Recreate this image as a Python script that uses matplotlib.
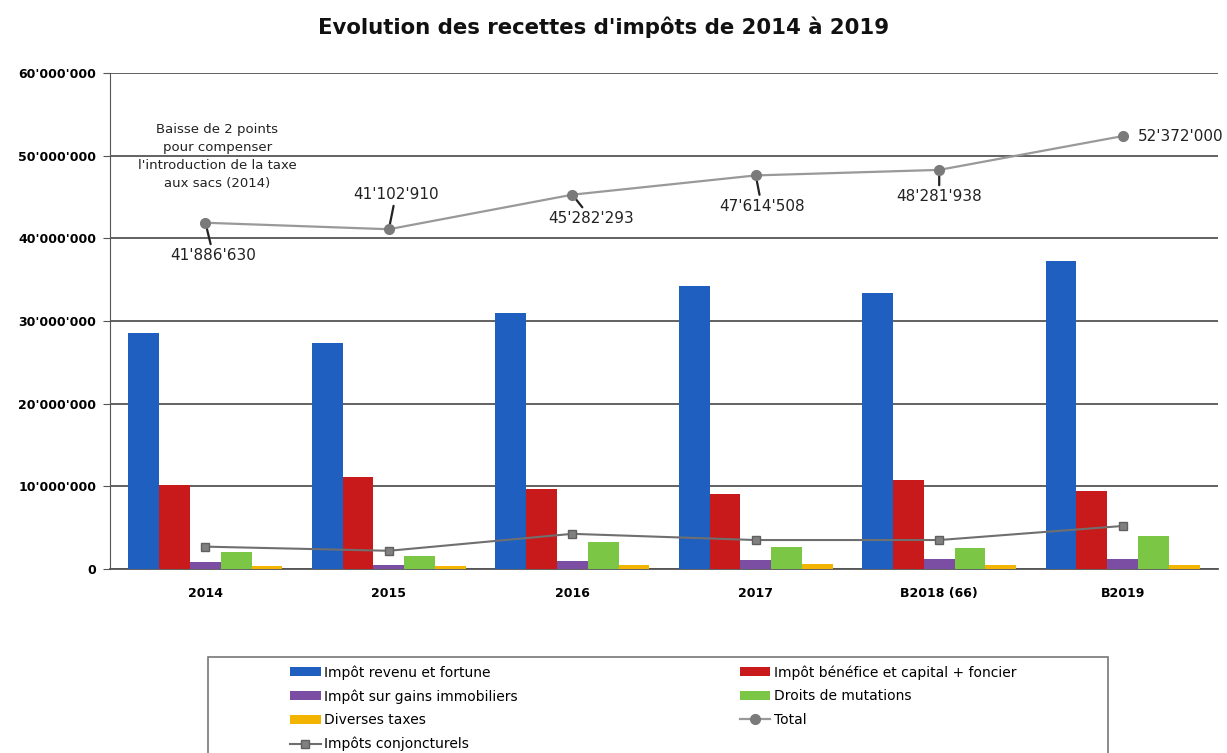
import numpy as np
import matplotlib
matplotlib.use("Agg")
import matplotlib.pyplot as plt
from matplotlib.patches import Rectangle
from matplotlib.ticker import FuncFormatter

# === Données ===
annees = ["2014", "2015", "2016", "2017", "B2018 (66)", "B2019"]
revenu_fortune = [28550000, 27300000, 31000000, 34250000, 33400000, 37300000]
benefice_capital = [10200000, 11100000, 9650000, 9100000, 10800000, 9400000]
gains_immobiliers = [900000, 500000, 950000, 1100000, 1200000, 1250000]
droits_mutations = [2000000, 1600000, 3300000, 2600000, 2500000, 4000000]
diverses_taxes = [300000, 400000, 500000, 600000, 500000, 500000]
total = [41886630, 41102910, 45282293, 47614508, 48281938, 52372000]
conjoncturels = [2700000, 2200000, 4250000, 3500000, 3500000, 5200000]

series = [
    ("Impôt revenu et fortune", revenu_fortune, "#1f5fc0"),
    ("Impôt bénéfice et capital + foncier", benefice_capital, "#c81a1a"),
    ("Impôt sur gains immobiliers", gains_immobiliers, "#7b4ea3"),
    ("Droits de mutations", droits_mutations, "#7cc646"),
    ("Diverses taxes", diverses_taxes, "#f3b400"),
]

fig = plt.figure(figsize=(12.27, 7.53), dpi=100)
ax = fig.add_axes([0.0897, 0.2444, 0.903, 0.6586])

x = np.arange(len(annees))
w = 0.168
handles = {}
for k, (nom, vals, col) in enumerate(series):
    b = ax.bar(x + (k - 2) * w, vals, w, color=col, label=nom, zorder=3)
    handles[nom] = b

ln_total, = ax.plot(x, total, color="#999999", lw=1.6, marker="o", ms=7,
                    mfc="#7a7a7a", mec="#7a7a7a", zorder=4, label="Total")
ln_conj, = ax.plot(x, conjoncturels, color="#6f6f6f", lw=1.5, marker="s", ms=6,
                   mfc="#808080", mec="#606060", zorder=4, label="Impôts conjoncturels")

ax.set_xlim(-0.52, 5.52)
ax.set_ylim(0, 60000000)
ax.set_yticks(np.arange(0, 60000001, 10000000))
ax.yaxis.set_major_formatter(FuncFormatter(lambda v, p: "0" if v == 0 else f"{int(v):,}".replace(",", "'")))
ax.set_xticks(x)
ax.set_xticklabels(annees)
for lab in ax.get_xticklabels() + ax.get_yticklabels():
    lab.set_fontweight("bold")
    lab.set_fontsize(9)
ax.tick_params(axis="x", length=0, pad=13)
ax.tick_params(axis="y", length=5, color="#555555", pad=5)
ax.grid(axis="y", color="#555555", lw=1.3, zorder=0)
ax.set_axisbelow(True)
for s in ["top", "right"]:
    ax.spines[s].set_visible(False)
ax.spines["left"].set_color("#555555")
ax.spines["bottom"].set_color("#555555")
ax.spines["bottom"].set_linewidth(1.3)

# étiquettes du total
offsets = [(8, -33), (7, 35), (19, -24), (6, -31), (0, -27)]
for i, (dx, dy) in enumerate(offsets):
    ax.annotate(f"{total[i]:,}".replace(",", "'"), xy=(x[i], total[i]),
                xytext=(dx, dy), textcoords="offset pixels", ha="center", va="center",
                fontsize=11, color="#222222",
                arrowprops=dict(arrowstyle="-", color="#222222", lw=1.6, shrinkA=1, shrinkB=0))
ax.annotate(f"{total[5]:,}".replace(",", "'"), xy=(x[5], total[5]), xytext=(15, 0),
            textcoords="offset pixels", ha="left", va="center", fontsize=11, color="#222222")

ax.text(x[0] + 0.065, 49960000,
        "Baisse de 2 points\npour compenser\nl'introduction de la taxe\naux sacs (2014)",
        ha="center", va="center", fontsize=9.5, color="#222222", linespacing=1.5)

fig.text(0.492, 0.964, "Evolution des recettes d'impôts de 2014 à 2019", ha="center", va="center",
         fontsize=15.3, fontweight="bold", color="#111111")

# légende
fig.patches.append(Rectangle((208 / 1227, -0.05), 900 / 1227, 1 - 657 / 753 + 0.05,
                             transform=fig.transFigure, fill=False, edgecolor="#777777", lw=1.2))
ordre = [handles["Impôt revenu et fortune"], handles["Impôt sur gains immobiliers"],
         handles["Diverses taxes"], ln_conj,
         handles["Impôt bénéfice et capital + foncier"], handles["Droits de mutations"], ln_total]
fig.legend(handles=ordre, labels=[h.get_label() for h in ordre], loc="upper left",
           bbox_to_anchor=(290 / 1227, 1 - 665 / 753), ncol=2, frameon=False, fontsize=10,
           handlelength=2.2, handleheight=0.6, handletextpad=0.25, labelspacing=0.69,
           columnspacing=16.0, borderaxespad=0, borderpad=0)

plt.savefig("out.png", dpi=100)
